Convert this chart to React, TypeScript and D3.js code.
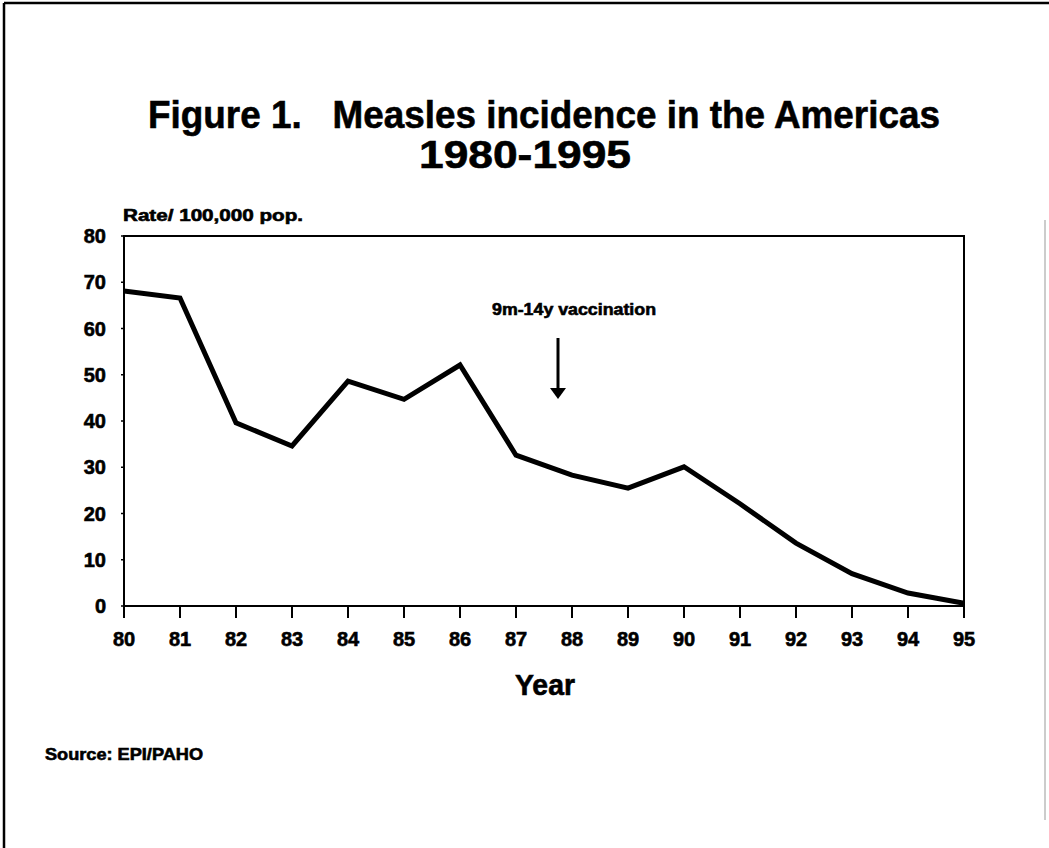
import React from "react";
import * as d3 from "d3";

const years = [80, 81, 82, 83, 84, 85, 86, 87, 88, 89, 90, 91, 92, 93, 94, 95];
const rates = [68.1, 66.6, 39.6, 34.6, 48.6, 44.7, 52.1, 32.6, 28.3, 25.5, 30.1, 22.1, 13.6, 7.0, 2.8, 0.6];
const yTicks = [0, 10, 20, 30, 40, 50, 60, 70, 80];
const xTickLabels = years.map((y) => String(y));

const titleLine1 = "Figure 1.   Measles incidence in the Americas";
const titleLine2 = "1980-1995";
const yAxisTitle = "Rate/ 100,000 pop.";
const xAxisTitle = "Year";
const annotationText = "9m-14y vaccination";
const annotationYear = 87.75;
const sourceText = "Source: EPI/PAHO";

const W = 1049;
const H = 848;
const left = 124;
const right = 964;
const top = 236;
const bottom = 606;

const FONT = "'Liberation Sans', Arial, Helvetica, sans-serif";

export default function App() {
  const x = d3.scaleLinear().domain([80, 95]).range([left, right]);
  const y = d3.scaleLinear().domain([0, 80]).range([bottom, top]);
  const line = d3
    .line<number>()
    .x((_, i) => x(years[i]))
    .y((d) => y(d));
  const path = line(rates) || "";
  const ax = x(annotationYear);
  const heavy = { stroke: "#000", strokeWidth: 0.6, paintOrder: "stroke" as const };

  return (
    <svg
      width={W}
      height={H}
      viewBox={`0 0 ${W} ${H}`}
      style={{ position: "absolute", left: 0, top: 0, display: "block", background: "#fff" }}
      fontFamily={FONT}
      fontWeight="bold"
    >
      <rect x={0} y={0} width={W} height={H} fill="#fff" />
      {/* outer page border */}
      <line x1={4} y1={3} x2={W} y2={3} stroke="#000" strokeWidth={2.5} />
      <line x1={4} y1={3} x2={4} y2={H} stroke="#000" strokeWidth={2.5} />
      <line x1={1045} y1={220} x2={1045} y2={820} stroke="#bbb" strokeWidth={1.5} />

      {/* title */}
      <text
        x={544}
        y={128}
        fontSize={39}
        textAnchor="middle"
        style={{ whiteSpace: "pre" }}
        textLength={792}
        lengthAdjust="spacingAndGlyphs"
        {...heavy}
      >
        {titleLine1}
      </text>
      <text x={525} y={168} fontSize={38} textAnchor="middle" textLength={212} lengthAdjust="spacingAndGlyphs" {...heavy}>
        {titleLine2}
      </text>

      {/* y axis title */}
      <text x={123} y={221} fontSize={16} textLength={180} lengthAdjust="spacingAndGlyphs" {...heavy}>
        {yAxisTitle}
      </text>

      {/* plot frame */}
      <rect x={left} y={top} width={right - left} height={bottom - top} fill="none" stroke="#000" strokeWidth={2} />

      {/* y ticks */}
      {yTicks.map((t) => (
        <g key={"y" + t}>
          <line x1={left - 3} x2={left} y1={y(t)} y2={y(t)} stroke="#000" strokeWidth={1.5} />
          <text x={106} y={y(t) + 7} fontSize={20} textAnchor="end" {...heavy}>
            {t}
          </text>
        </g>
      ))}

      {/* x ticks */}
      {years.map((yr, i) => (
        <g key={"x" + yr}>
          <line x1={x(yr)} x2={x(yr)} y1={bottom} y2={bottom + 12} stroke="#000" strokeWidth={2} />
          <text x={x(yr)} y={646} fontSize={20} textAnchor="middle" {...heavy}>
            {xTickLabels[i]}
          </text>
        </g>
      ))}

      {/* x axis title */}
      <text x={545} y={695} fontSize={29} textAnchor="middle" textLength={60} lengthAdjust="spacingAndGlyphs" {...heavy}>
        {xAxisTitle}
      </text>

      {/* data line */}
      <path d={path} fill="none" stroke="#000" strokeWidth={5} strokeLinejoin="miter" />

      {/* annotation */}
      <text x={574} y={315} fontSize={16} textAnchor="middle" textLength={164} lengthAdjust="spacingAndGlyphs" {...heavy}>
        {annotationText}
      </text>
      <line x1={ax} x2={ax} y1={338} y2={392} stroke="#000" strokeWidth={3} />
      <path d={`M${ax - 8},388 L${ax + 8},388 L${ax},399 Z`} fill="#000" />

      {/* source */}
      <text x={45} y={760} fontSize={17} textLength={158} lengthAdjust="spacingAndGlyphs" {...heavy}>
        {sourceText}
      </text>
    </svg>
  );
}
